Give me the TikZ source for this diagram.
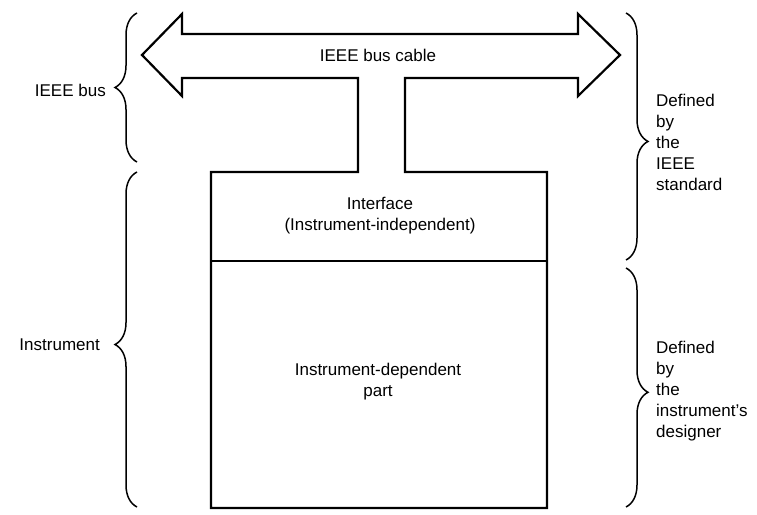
\documentclass[tikz,border=0pt]{standalone}
\usepackage{fontspec}
\setmainfont{Liberation Sans}
\usetikzlibrary{decorations.pathreplacing}
\tikzset{
  outline/.style={line width=2.2pt, line join=miter},
  bracel/.style={decorate, decoration={brace, amplitude=22pt, aspect=#1}, line width=1.5pt},
  lbl/.style={inner sep=0pt, font=\fontsize{17}{21}\selectfont},
}
\begin{document}
\begin{tikzpicture}[x=1pt,y=-1pt]
\useasboundingbox (0,0) rectangle (757,514);
% coordinates of the combined arrow + box outline
\coordinate (lt) at (142,55);
\coordinate (rt) at (620,55);
\coordinate (lstem) at (358,78);
\coordinate (rstem) at (405,78);
\coordinate (boxnw) at (211,172);
\coordinate (boxse) at (547,508);
\draw[outline] (lt) -- (182,14) -- (182,34) -- (578,34) -- (578,14) -- (rt)
  -- (578,96) -- (578,78) -- (rstem) -- (405,172) -- (547,172) -- (boxse)
  -- (211,508) -- (boxnw) -- (358,172) -- (lstem) -- (182,78) -- (182,96) -- cycle;
\coordinate (divl) at (211,261);
\coordinate (divr) at (547,261);
\draw[outline] (divl) -- (divr);
% texts in the drawing
\node[lbl] (cable) at (378,55) {IEEE bus cable};
\node[lbl, align=center] (iface) at (380,216) {Interface\\(Instrument-independent)};
\node[lbl, align=center] (idep) at (378,382) {Instrument-dependent\\part};
% left braces
\coordinate (b1s) at (137,162);
\coordinate (b1e) at (137,13);
\draw[bracel=0.5] (b1s) -- (b1e);
\coordinate (b2s) at (137,507);
\coordinate (b2e) at (137,172);
\draw[bracel=0.485] (b2s) -- (b2e);
\node[lbl, anchor=east] (ieeebus) at (106,90) {IEEE bus};
\node[lbl, anchor=east] (instr) at (100,345) {Instrument};
% right braces
\coordinate (b3s) at (626,13);
\coordinate (b3e) at (626,260);
\draw[bracel=0.52] (b3s) -- (b3e);
\coordinate (b4s) at (626,268);
\coordinate (b4e) at (626,507);
\draw[bracel=0.52] (b4s) -- (b4e);
\node[lbl, anchor=west, align=left] (def1) at (656,142) {Defined\\by\\the\\IEEE\\standard};
\node[lbl, anchor=west, align=left] (def2) at (656,391) {Defined\\by\\the\\instrument’s\\designer};
\end{tikzpicture}
\end{document}
